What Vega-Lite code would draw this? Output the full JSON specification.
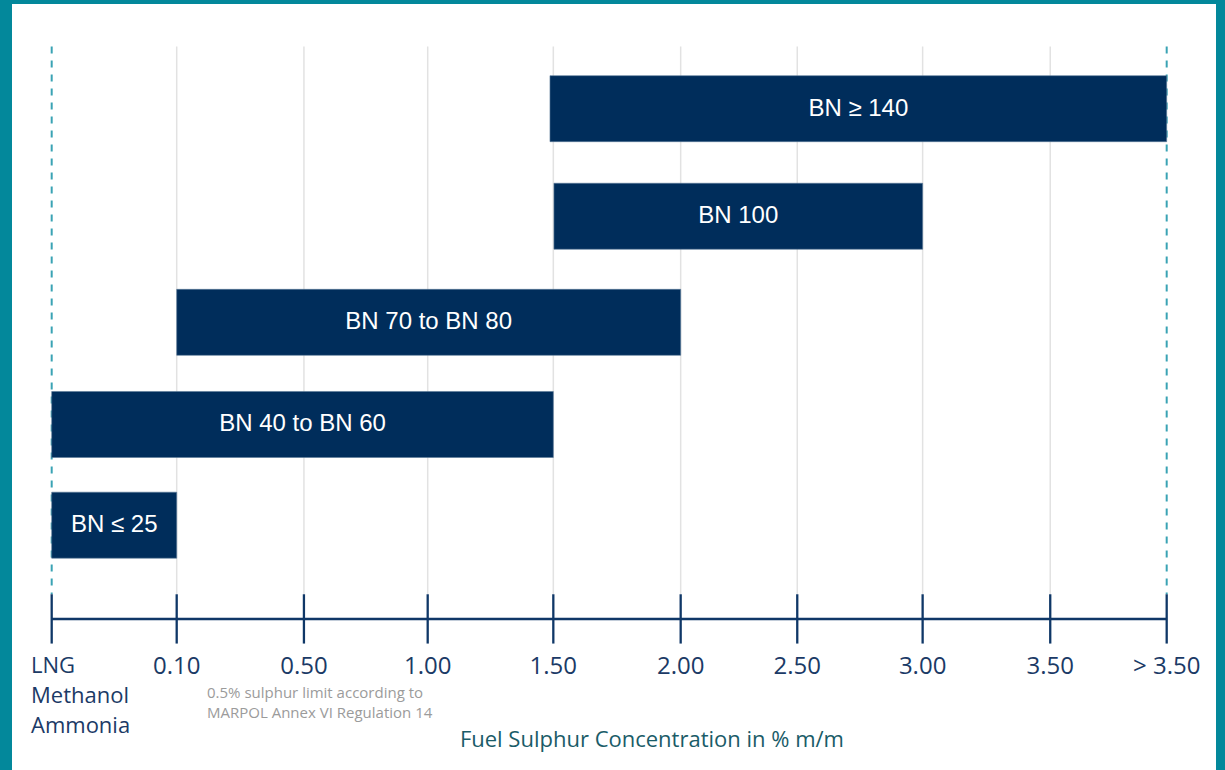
{
  "$schema": "https://vega.github.io/schema/vega-lite/v6.json",
  "width": 1204,
  "height": 766,
  "autosize": {"type": "none"},
  "padding": {"left": 12, "top": 4, "right": 9, "bottom": 0},
  "background": "#03889b",
  "config": {"view": {"fill": "white", "stroke": null}},
  "datasets": {
    "bars": [
      {"label": "BN ≥ 140", "row": 5.0, "start": 4.022, "end": 9.0},
      {"label": "BN 100", "row": 3.967, "start": 4.054, "end": 7.03},
      {"label": "BN 70 to BN 80", "row": 2.948, "start": 1.009, "end": 5.077},
      {"label": "BN 40 to BN 60", "row": 1.967, "start": 0, "end": 4.049},
      {"label": "BN ≤ 25", "row": 1.0, "start": 0, "end": 1.009}
    ],
    "ticks": [
      {"pos": 0, "label": "LNG\nMethanol\nAmmonia"},
      {"pos": 1.009, "label": "0.10"},
      {"pos": 2.036, "label": "0.50"},
      {"pos": 3.035, "label": "1.00"},
      {"pos": 4.049, "label": "1.50"},
      {"pos": 5.077, "label": "2.00"},
      {"pos": 6.018, "label": "2.50"},
      {"pos": 7.03, "label": "3.00"},
      {"pos": 8.06, "label": "3.50"},
      {"pos": 9.0, "label": "> 3.50"}
    ]
  },
  "layer": [
    {
      "data": {"name": "ticks"},
      "transform": [{"filter": "datum.pos > 0 && datum.pos < 9"}],
      "mark": {"type": "rule", "color": "#e2e2e2", "strokeWidth": 1.5},
      "encoding": {
        "x": {"field": "pos", "type": "quantitative", "scale": {"domain": [-0.3204, 9.398], "nice": false, "zero": false}, "axis": null},
        "y": {"datum": 5.597, "type": "quantitative", "scale": {"domain": [-1.3033, 5.9573], "nice": false, "zero": false}, "axis": null},
        "y2": {"datum": 0.3365}
      }
    },
    {
      "data": {"name": "ticks"},
      "transform": [{"filter": "datum.pos == 0 || datum.pos == 9"}],
      "mark": {"type": "rule", "color": "#3aa3b4", "strokeWidth": 2, "strokeDash": [7, 7]},
      "encoding": {
        "x": {"field": "pos", "type": "quantitative"},
        "y": {"datum": 5.597, "type": "quantitative"},
        "y2": {"datum": 0.3365}
      }
    },
    {
      "data": {"name": "bars"},
      "mark": {"type": "bar", "color": "#002d5b", "size": 66, "stroke": "#5b7a99", "strokeWidth": 0.6},
      "encoding": {
        "x": {"field": "start", "type": "quantitative"},
        "x2": {"field": "end"},
        "y": {"field": "row", "type": "quantitative"}
      }
    },
    {
      "data": {"values": [{}]},
      "mark": {"type": "rule", "color": "#0f3767", "strokeWidth": 2.5},
      "encoding": {
        "x": {"datum": 0, "type": "quantitative"},
        "x2": {"datum": 9},
        "y": {"datum": 0.0995, "type": "quantitative"}
      }
    },
    {
      "data": {"name": "ticks"},
      "mark": {"type": "rule", "color": "#0f3767", "strokeWidth": 2.3},
      "encoding": {
        "x": {"field": "pos", "type": "quantitative"},
        "y": {"datum": 0.3365, "type": "quantitative"},
        "y2": {"datum": -0.137}
      }
    },
    {
      "data": {"name": "ticks"},
      "transform": [{"filter": "datum.pos > 0"}],
      "mark": {"type": "text", "font": "Open Sans", "fontSize": 24, "color": "#1b3a66", "baseline": "alphabetic", "align": "center"},
      "encoding": {
        "x": {"field": "pos", "type": "quantitative"},
        "y": {"datum": -0.4313, "type": "quantitative"},
        "text": {"field": "label", "type": "nominal"}
      }
    },
    {
      "data": {"name": "ticks"},
      "transform": [{"filter": "datum.pos == 0"}],
      "mark": {"type": "text", "font": "Open Sans", "fontSize": 22, "color": "#1b3a66", "baseline": "alphabetic", "align": "left", "dx": -20.7, "lineBreak": "\n", "lineHeight": 30},
      "encoding": {
        "x": {"field": "pos", "type": "quantitative"},
        "y": {"datum": -0.4218, "type": "quantitative"},
        "text": {"field": "label", "type": "nominal"}
      }
    },
    {
      "data": {"values": [{}]},
      "mark": {"type": "text", "text": "0.5% sulphur limit according to\nMARPOL Annex VI Regulation 14", "lineBreak": "\n", "lineHeight": 20.5, "font": "Open Sans", "fontSize": 15, "color": "#9b9b9b", "align": "left", "baseline": "alphabetic"},
      "encoding": {
        "x": {"datum": 1.2536, "type": "quantitative"},
        "y": {"datum": -0.6559, "type": "quantitative"}
      }
    },
    {
      "data": {"values": [{}]},
      "mark": {"type": "text", "text": "Fuel Sulphur Concentration in % m/m", "font": "Open Sans", "fontSize": 22, "color": "#1a5c68", "align": "center", "baseline": "alphabetic"},
      "encoding": {
        "x": {"datum": 4.845, "type": "quantitative"},
        "y": {"datum": -1.1299, "type": "quantitative"}
      }
    },
    {
      "data": {"name": "bars"},
      "transform": [
        {"fold": ["start", "end"], "as": ["k", "v"]},
        {"aggregate": [{"op": "mean", "field": "v", "as": "mid"}], "groupby": ["label", "row"]}
      ],
      "mark": {"type": "text", "font": "Liberation Sans", "fontSize": 24, "color": "white", "align": "center", "baseline": "middle"},
      "encoding": {
        "x": {"field": "mid", "type": "quantitative"},
        "y": {"field": "row", "type": "quantitative"},
        "text": {"field": "label", "type": "nominal"}
      }
    }
  ]
}
